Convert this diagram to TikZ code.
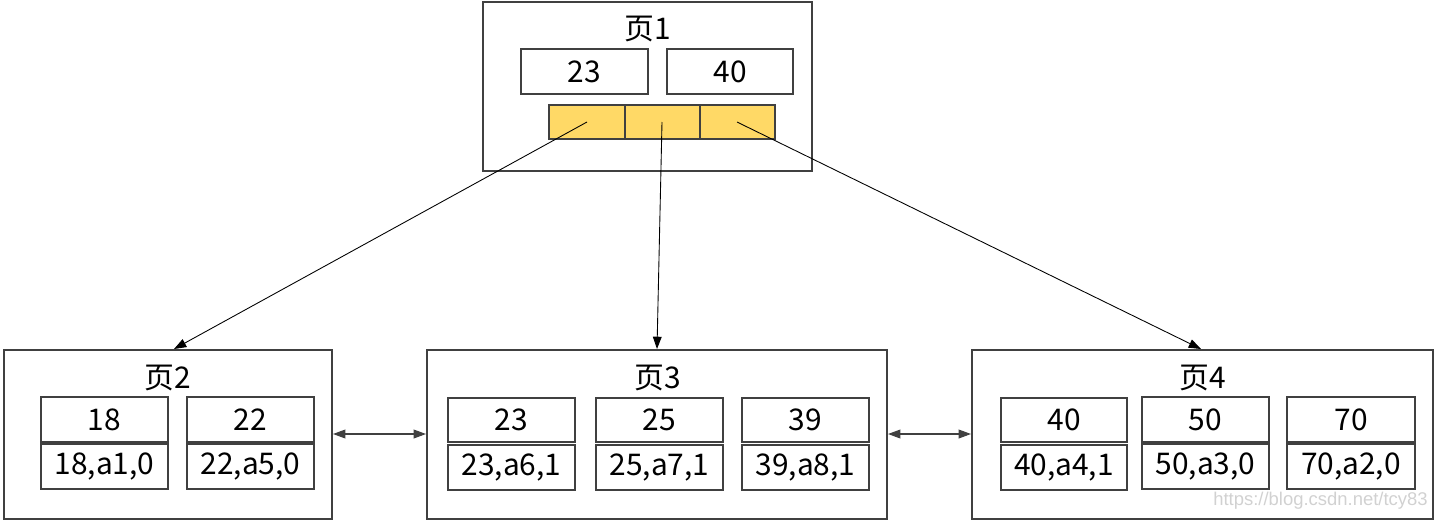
\documentclass[tikz,border=0pt]{standalone}
\usepackage{fontspec}
\setmainfont{Noto Sans CJK SC}
\newfontfamily\wmfont{Liberation Sans}
\usetikzlibrary{arrows.meta}
\definecolor{keyfill}{HTML}{FFD966}
\definecolor{boxline}{HTML}{404040}
\begin{document}
\begin{tikzpicture}[x=0.02cm,y=-0.02cm,
  pagebox/.style={draw=boxline,line width=0.6pt},
  cellbox/.style={draw=boxline,line width=0.6pt},
  ptrcell/.style={draw=boxline,line width=0.6pt,fill=keyfill},
  lbl/.style={font=\fontsize{17}{20}\selectfont,inner sep=0pt},
  ptr/.style={-{Triangle[length=7pt,width=5pt]},line width=0.5pt},
  link/.style={{Triangle[length=7pt,width=5pt]}-{Triangle[length=7pt,width=5pt]},line width=0.6pt,draw=boxline}]
\useasboundingbox (0,0) rectangle (1437,521);
% page 1
\draw[pagebox] (483,2) rectangle (812,171);
\node[lbl] (t1) at (648,29) {页1};
\draw[cellbox] (521,49) rectangle node[lbl] (k23) {23} (648,94);
\draw[cellbox] (667,49) rectangle node[lbl] (k40) {40} (793,94);
\draw[ptrcell] (549,105) rectangle (625,139);
\draw[ptrcell] (625,105) rectangle (700,139);
\draw[ptrcell] (700,105) rectangle (775,139);
\coordinate (p1) at (587,122);
\coordinate (p2) at (662,122);
\coordinate (p3) at (737,122);
% page 2
\draw[pagebox] (4,350) rectangle (332,519);
\node (pg2) at (168,350) {};
\node[lbl] (t2) at (168,378) {页2};
\draw[cellbox] (41,397) rectangle node[lbl] {18} (168,442);
\draw[cellbox] (41,444) rectangle node[lbl] {18,a1,0} (168,489);
\draw[cellbox] (187,397) rectangle node[lbl] {22} (314,442);
\draw[cellbox] (187,444) rectangle node[lbl] {22,a5,0} (314,489);
% page 3
\draw[pagebox] (427,350) rectangle (887,519);
\node[lbl] (t3) at (658,378) {页3};
\draw[cellbox] (448,398) rectangle node[lbl] {23} (575,442);
\draw[cellbox] (448,445) rectangle node[lbl] {23,a6,1} (575,490);
\draw[cellbox] (596,398) rectangle node[lbl] {25} (723,442);
\draw[cellbox] (596,445) rectangle node[lbl] {25,a7,1} (723,490);
\draw[cellbox] (742,398) rectangle node[lbl] {39} (869,442);
\draw[cellbox] (742,445) rectangle node[lbl] {39,a8,1} (869,490);
% page 4
\draw[pagebox] (972,350) rectangle (1433,519);
\node[lbl] (t4) at (1203,378) {页4};
\draw[cellbox] (1001,398) rectangle node[lbl] {40} (1127,442);
\draw[cellbox] (1001,445) rectangle node[lbl] {40,a4,1} (1127,490);
\draw[cellbox] (1142,397) rectangle node[lbl] {50} (1269,442);
\draw[cellbox] (1142,444) rectangle node[lbl] {50,a3,0} (1269,489);
\draw[cellbox] (1287,397) rectangle node[lbl] {70} (1415,442);
\draw[cellbox] (1287,444) rectangle node[lbl] {70,a2,0} (1415,489);
% targets
\coordinate (in2) at (174,349);
\coordinate (in3) at (657,349);
\coordinate (in4) at (1201,349);
\draw[ptr] (p1) -- (in2);
\draw[ptr] (p2) -- (in3);
\draw[ptr] (p3) -- (in4);
% sibling links
\coordinate (r2) at (333,434);
\coordinate (l3) at (426,434);
\coordinate (r3) at (888,434);
\coordinate (l4) at (971,434);
\draw[link] (r2) -- (l3);
\draw[link] (r3) -- (l4);
% watermark
\node[font=\wmfont\fontsize{10.5}{12}\selectfont,text=black!18,anchor=east,inner sep=0pt] (wm) at (1428,501) {https://blog.csdn.net/tcy83};
\end{tikzpicture}
\end{document}
